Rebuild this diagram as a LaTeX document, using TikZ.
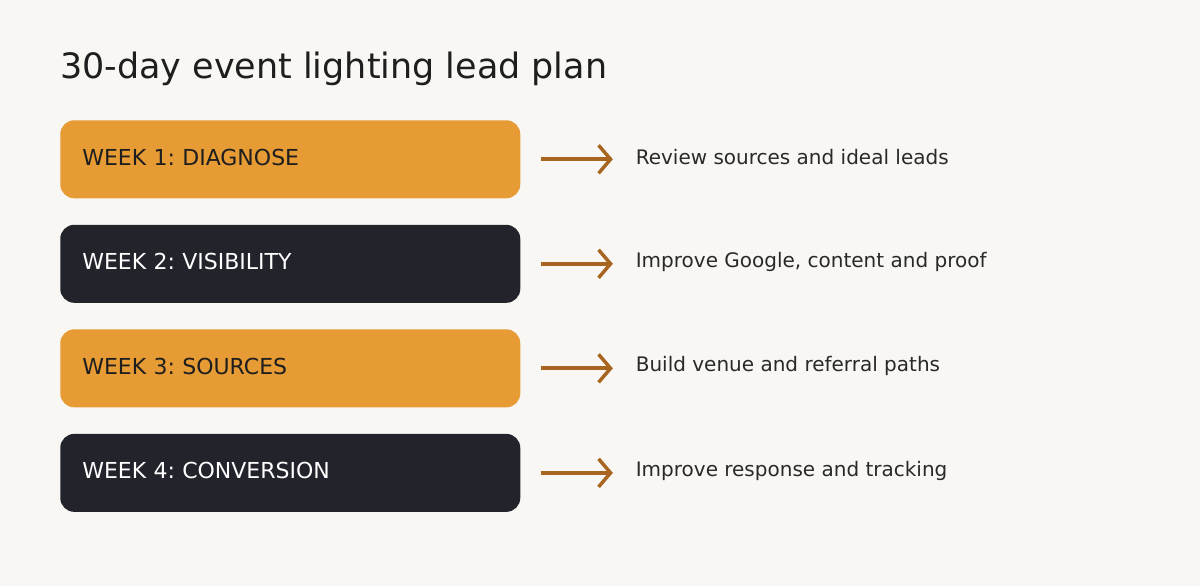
\documentclass[tikz,border=0pt]{standalone}
\usepackage{fontspec}
\setmainfont{DejaVu Sans}
\frenchspacing
\usetikzlibrary{positioning,arrows.meta}
\definecolor{bgcol}{HTML}{F8F7F4}
\definecolor{amber}{HTML}{E69B35}
\definecolor{ink}{HTML}{23242B}
\definecolor{rust}{HTML}{A8651F}
\definecolor{txt}{HTML}{1E1E1E}
\begin{document}
\begin{tikzpicture}[node distance={19.5pt},
  week/.style = {rounded corners=10.5pt, minimum height=58.5pt, text width=312pt, text height=12pt, text depth=3pt, inner xsep=16.5pt, inner ysep=0pt, align=left, font=\fontsize{16.5}{19}\selectfont},
  light/.style = {week, fill=amber, text=txt},
  dark/.style = {week, fill=ink, text=white},
  note/.style = {inner sep=0pt, anchor=west, yshift=1.5pt, text=txt!95, font=\fontsize{15}{18}\selectfont},
  arr/.style = {draw=rust, line width=3pt, -{Straight Barb[length=9pt, width=21pt, line width=2.6pt]}, shorten <=15pt, shorten >=17pt}]
\fill[bgcol] (0,0) rectangle (900pt,-439.5pt);
\useasboundingbox (0,0) rectangle (900pt,-439.5pt);
\node[anchor=base west, inner sep=0pt, text=txt, font=\fontsize{26.2}{31}\selectfont] (title) at (45pt,-58.5pt) {30-day event lighting lead plan};
\node[light, anchor=north west] (w1) at (45pt,-90pt) {WEEK 1: DIAGNOSE};
\node[dark, below=of w1] (w2) {WEEK 2: VISIBILITY};
\node[light, below=of w2] (w3) {WEEK 3: SOURCES};
\node[dark, below=of w3] (w4) {WEEK 4: CONVERSION};
\node[note, right=86.25pt of w1] (d1) {Review sources and ideal leads};
\node[note, right=86.25pt of w2] (d2) {Improve Google, content and proof};
\node[note, right=86.25pt of w3] (d3) {Build venue and referral paths};
\node[note, right=86.25pt of w4] (d4) {Improve response and tracking};
\draw[arr] (w1.east) -- (w1.east -| d1.west);
\draw[arr] (w2.east) -- (w2.east -| d2.west);
\draw[arr] (w3.east) -- (w3.east -| d3.west);
\draw[arr] (w4.east) -- (w4.east -| d4.west);
\end{tikzpicture}
\end{document}
